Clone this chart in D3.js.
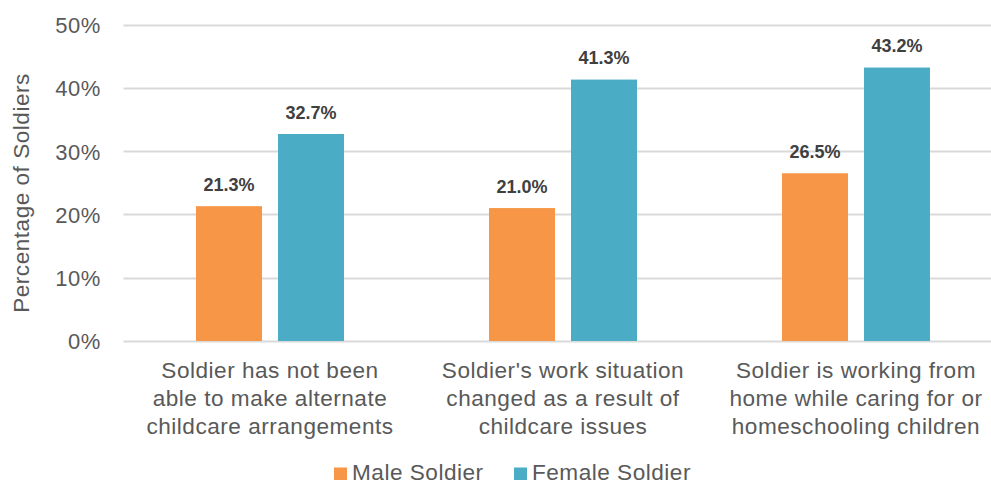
<!DOCTYPE html>
<html><head><meta charset="utf-8">
<script src="https://cdn.jsdelivr.net/npm/d3@7"></script>
<style>
body{margin:0;background:#fff;}
text{font-family:"Liberation Sans",Arial,sans-serif;}
</style></head>
<body><svg id="c" width="991" height="485"></svg>
<script>
const categories = [
  ["Soldier has not been","able to make alternate","childcare arrangements"],
  ["Soldier's work situation","changed as a result of","childcare issues"],
  ["Soldier is working from","home while caring for or","homeschooling children"]
];
const seriesNames = ["Male Soldier","Female Soldier"];
const maleValues = [21.3, 21.0, 26.5];
const femaleValues = [32.7, 41.3, 43.2];
const yTicks = [0,10,20,30,40,50];
const colors = ["#F79646","#4BACC6"];

(function(){
const svg = d3.select("#c");
const pLeft = 123.5, pRight = 1002.5, pTop = 24.5, pBottom = 341;
const x0 = d3.scaleBand().domain(d3.range(categories.length)).range([pLeft,pRight]).paddingInner(0).paddingOuter(0);
const y = d3.scaleLinear().domain([0,50]).range([pBottom, pTop]);
const barW = 66, gap = 16;
const series = [maleValues, femaleValues];
const ls = "0.5px";
const fs = 22.6;

// gridlines
svg.append("g").selectAll("line").data(yTicks).join("line")
  .attr("x1", pLeft).attr("x2", 991)
  .attr("y1", d=>Math.round(y(d))+0.5).attr("y2", d=>Math.round(y(d))+0.5)
  .attr("stroke","#D9D9D9").attr("stroke-width",1.8);

// y axis labels
const yAxis = d3.axisLeft(y).tickValues(yTicks).tickFormat(d=>d+"%").tickSize(0).tickPadding(0);
const ga = svg.append("g").attr("transform","translate(101,0)").call(yAxis);
ga.select(".domain").remove();
ga.selectAll("text").attr("font-size",22).attr("fill","#595959")
  .attr("font-family","'Liberation Sans',Arial,sans-serif").attr("dy","0.36em")
  .attr("letter-spacing","0.6px");

// axis title
svg.append("text").attr("transform",`translate(29,193) rotate(-90)`)
  .attr("text-anchor","middle").attr("font-size",fs).attr("letter-spacing",ls)
  .attr("fill","#595959").text("Percentage of Soldiers");

// bars
series.forEach((vals, si)=>{
  const off = (x0.bandwidth() - (2*barW+gap))/2 + si*(barW+gap);
  svg.append("g").selectAll("rect").data(vals).join("rect")
    .attr("x",(d,i)=>x0(i)+off).attr("width",barW)
    .attr("y",d=>y(d)).attr("height",d=>y(0)-y(d))
    .attr("fill",colors[si]);
  svg.append("g").selectAll("text").data(vals).join("text")
    .attr("x",(d,i)=>x0(i)+off+barW/2).attr("y",d=>y(d)-15.5)
    .attr("text-anchor","middle").attr("font-size",18).attr("font-weight","bold")
    .attr("fill","#404040").text(d=>d.toFixed(1)+"%");
});

// category labels
categories.forEach((lines,i)=>{
  const t = svg.append("text").attr("text-anchor","middle").attr("font-size",fs)
    .attr("letter-spacing",ls).attr("fill","#595959");
  lines.forEach((l,j)=>{
    t.append("tspan").attr("x",x0(i)+x0.bandwidth()/2).attr("y",377.5+j*28.3).text(l);
  });
});

// legend
const legX = [334, 514];
seriesNames.forEach((n,i)=>{
  svg.append("rect").attr("x",legX[i]).attr("y",467.5).attr("width",13).attr("height",12.5).attr("fill",colors[i]);
  svg.append("text").attr("x",legX[i]+18).attr("y",480).attr("font-size",fs)
    .attr("letter-spacing",ls).attr("fill","#595959").text(n);
});
})();
</script></body></html>
